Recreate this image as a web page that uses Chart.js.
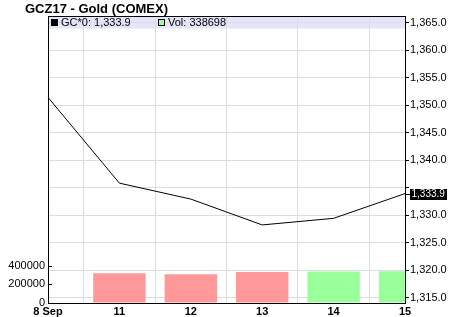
<!DOCTYPE html>
<html>
<head>
<meta charset="utf-8">
<script src="https://cdn.jsdelivr.net/npm/chart.js@4/dist/chart.umd.min.js"></script>
<style>
  html, body { margin: 0; padding: 0; background: #fff; }
  #wrap { width: 450px; height: 317px; position: relative; }
</style>
</head>
<body>
<div id="wrap"><canvas id="c" width="450" height="317"></canvas></div>
<script>
const title = 'GCZ17 - Gold (COMEX)';
const categories = ['8 Sep', '11', '12', '13', '14', '15'];
const prices = [1351.4, 1335.8, 1332.9, 1328.2, 1329.4, 1333.9];
const volumes = [null, 317300, 306700, 331200, 337500, 338698];
const priceTicks = [1315, 1320, 1325, 1330, 1335, 1340, 1345, 1350, 1355, 1360, 1365];
const volumeTicks = [0, 200000, 400000];
const priceLabel = 'GC*0';
const volLabel = 'Vol';

const UP = 'rgb(153,255,153)';
const DOWN = 'rgb(255,153,153)';
const barColors = prices.map((p, i) => (i > 0 && p >= prices[i - 1]) ? UP : DOWN);

const fmtPrice = v => Number(v).toLocaleString('en-US', { minimumFractionDigits: 1, maximumFractionDigits: 1 });
const lastPrice = prices[prices.length - 1];
const lastVol = volumes[volumes.length - 1];
const FONT = '"Liberation Sans", Arial, sans-serif';

const decor = {
  id: 'decor',
  beforeDraw(chart) {
    const { ctx, chartArea: a } = chart;
    ctx.save();
    ctx.fillStyle = 'rgb(228,228,250)';
    ctx.fillRect(a.left, a.top, a.right - a.left, 12.5);
    ctx.restore();
  },
  afterDraw(chart) {
    const { ctx, chartArea: a } = chart;
    ctx.save();
    // title
    ctx.fillStyle = '#000';
    ctx.font = 'bold 13px ' + FONT;
    ctx.textBaseline = 'alphabetic';
    ctx.textAlign = 'left';
    ctx.fillText(title, 25, 13);
    // top border
    ctx.strokeStyle = '#000';
    ctx.lineWidth = 1;
    ctx.beginPath();
    ctx.moveTo(a.left, a.top + 0.5);
    ctx.lineTo(a.right, a.top + 0.5);
    ctx.stroke();
    // legend
    ctx.font = '11px ' + FONT;
    ctx.textBaseline = 'middle';
    ctx.fillStyle = '#000';
    ctx.fillRect(51, 19, 7, 7);
    ctx.fillText(priceLabel + ': ' + fmtPrice(lastPrice), 61, 22.5);
    ctx.fillStyle = UP;
    ctx.fillRect(158, 19, 7, 7);
    ctx.strokeStyle = '#000';
    ctx.strokeRect(158.5, 19.5, 6, 6);
    ctx.fillStyle = '#000';
    ctx.fillText(volLabel + ': ' + lastVol, 168, 22.5);
    // inward ticks on volume axis
    const vs = chart.scales.vol;
    ctx.beginPath();
    volumeTicks.forEach(v => {
      const y = Math.round(vs.getPixelForValue(v)) + 0.5;
      ctx.moveTo(a.left, y);
      ctx.lineTo(a.left + 4, y);
    });
    ctx.stroke();
    // last value box
    const ps = chart.scales.price;
    const y = Math.round(ps.getPixelForValue(lastPrice));
    ctx.font = '10px ' + FONT;
    const tw = ctx.measureText(fmtPrice(lastPrice)).width;
    ctx.fillStyle = '#000';
    ctx.fillRect(a.right + 5, y - 5, Math.ceil(tw) + 3, 11);
    ctx.fillStyle = '#fff';
    ctx.textAlign = 'left';
    ctx.fillText(fmtPrice(lastPrice), a.right + 6.5, y + 0.5);
    ctx.beginPath();
    ctx.moveTo(a.right, y + 0.5);
    ctx.lineTo(a.right + 5, y + 0.5);
    ctx.strokeStyle = '#000';
    ctx.stroke();
    ctx.restore();
  }
};

new Chart(document.getElementById('c'), {
  data: {
    labels: categories,
    datasets: [
      {
        type: 'line',
        data: prices,
        yAxisID: 'price',
        borderColor: '#000',
        borderWidth: 1,
        pointRadius: 0,
        tension: 0,
        fill: false,
        order: 0
      },
      {
        type: 'bar',
        data: volumes,
        yAxisID: 'vol',
        backgroundColor: barColors,
        borderWidth: 0,
        categoryPercentage: 1,
        barPercentage: 0.734,
        order: 1
      }
    ]
  },
  options: {
    responsive: false,
    animation: false,
    devicePixelRatio: 1,
    layout: { padding: { top: 16, left: 0, right: 0, bottom: 0 } },
    plugins: { legend: { display: false }, tooltip: { enabled: false }, title: { display: false } },
    scales: {
      x: {
        type: 'category',
        offset: false,
        grid: { color: '#dddddd', lineWidth: 1, drawTicks: false },
        border: { color: '#000', width: 1 },
        ticks: { color: '#000', font: { family: FONT, size: 11, weight: 'bold' }, padding: 2, maxRotation: 0, autoSkip: false },
        afterFit(s) { s.height = 14; }
      },
      vol: {
        type: 'linear',
        position: 'left',
        min: 0,
        max: 3070000,
        grid: { drawOnChartArea: false, drawTicks: false },
        border: { color: '#000', width: 1 },
        afterBuildTicks(s) { s.ticks = volumeTicks.map(v => ({ value: v })); },
        ticks: { color: '#000', font: { family: FONT, size: 11 }, padding: 3, callback: v => String(v) },
        afterFit(s) { s.width = 48; }
      },
      price: {
        type: 'linear',
        position: 'right',
        min: 1314,
        max: 1366.2,
        grid: { color: '#dddddd', lineWidth: 1, tickColor: '#000', tickLength: 4 },
        border: { color: '#000', width: 1 },
        afterBuildTicks(s) { s.ticks = priceTicks.map(v => ({ value: v })); },
        ticks: { color: '#000', font: { family: FONT, size: 11 }, padding: 1,
                 callback: v => (Math.abs(v - lastPrice) < 2 ? '' : fmtPrice(v)) },
        afterFit(s) { s.width = 45; }
      }
    }
  },
  plugins: [decor]
});
</script>
</body>
</html>
